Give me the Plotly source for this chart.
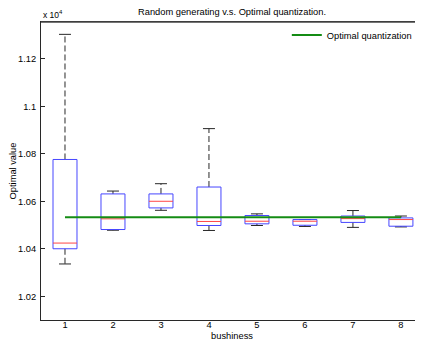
import plotly.graph_objects as go

# Data (values in units of 1; axis labelled x 10^4)
categories = [1, 2, 3, 4, 5, 6, 7, 8]
upper_whisker = [11303, 10643, 10674, 10906, 10547, 10523, 10561, 10538]
q3 = [10776, 10631, 10631, 10660, 10540, 10523, 10538, 10530]
median = [10424, 10526, 10600, 10515, 10516, 10516, 10527, 10523]
q1 = [10400, 10481, 10572, 10498, 10505, 10499, 10511, 10495]
lower_whisker = [10336, 10478, 10562, 10477, 10498, 10494, 10490, 10492]
optimal = [10533, 10533, 10533, 10533, 10533, 10533, 10533, 10533]

ytick_vals = [10200, 10400, 10600, 10800, 11000, 11200]
ytick_text = ["1.02", "1.04", "1.06", "1.08", "1.1", "1.12"]

HW = 0.25   # box half width
CW = 0.125  # cap half width
FONT = "Liberation Sans, Arial, Helvetica, sans-serif"
FS = 9.3

bx, by, mx, my, wx, wy, cx, cy = [], [], [], [], [], [], [], []
for c, u, a, m, b, l in zip(categories, upper_whisker, q3, median, q1, lower_whisker):
    bx += [c - HW, c + HW, c + HW, c - HW, c - HW, None]
    by += [b, b, a, a, b, None]
    mx += [c - HW, c + HW, None]
    my += [m, m, None]
    wx += [c, c, None, c, c, None]
    wy += [a, u, None, b, l, None]
    cx += [c - CW, c + CW, None, c - CW, c + CW, None]
    cy += [u, u, None, l, l, None]

W, H = 415, 334  # page has an 8px body margin

fig = go.Figure()
fig.add_trace(go.Scatter(x=wx, y=wy, mode="lines", showlegend=False, hoverinfo="skip",
                         line=dict(color="rgb(40,40,40)", width=1, dash="6px,3px")))
fig.add_trace(go.Scatter(x=cx, y=cy, mode="lines", showlegend=False, hoverinfo="skip",
                         line=dict(color="rgb(40,40,40)", width=1)))
fig.add_trace(go.Scatter(x=bx, y=by, mode="lines", showlegend=False, hoverinfo="skip",
                         line=dict(color="rgb(70,70,255)", width=1)))
fig.add_trace(go.Scatter(x=mx, y=my, mode="lines", showlegend=False, hoverinfo="skip",
                         line=dict(color="rgb(255,70,70)", width=1)))
fig.add_trace(go.Scatter(x=categories, y=optimal, mode="lines", name="Optimal quantization",
                         line=dict(color="rgb(20,140,20)", width=2)))
fig.add_trace(go.Scatter(x=[None], y=[None], yaxis="y2", showlegend=False, hoverinfo="skip"))

fig.update_layout(
    width=W, height=H,
    margin=dict(l=33, r=0, t=14, b=22, pad=0),
    paper_bgcolor="white", plot_bgcolor="white",
    font=dict(family=FONT, size=FS, color="black"),
    title=dict(text="Random generating v.s. Optimal quantization.", x=0.5, xref="paper",
               y=1 - 3.5 / H, yref="container", yanchor="middle", xanchor="center",
               font=dict(size=FS)),
    xaxis=dict(range=[0.5, 8.46], tickvals=categories, ticktext=[str(c) for c in categories],
               ticks="", showgrid=False, zeroline=False, showline=True, mirror="all",
               linecolor="rgb(40,40,40)", linewidth=1, ticklabelstandoff=-4,
               title=dict(text="bushiness", standoff=3, font=dict(size=FS))),
    yaxis=dict(range=[10100, 11355], tickvals=ytick_vals, ticktext=ytick_text,
               ticks="inside", ticklen=4, tickcolor="rgb(40,40,40)",
               showgrid=False, zeroline=False, showline=True, mirror=False,
               linecolor="rgb(40,40,40)", linewidth=1, ticklabelstandoff=2,
               title=dict(text="Optimal value", standoff=4, font=dict(size=FS))),
    yaxis2=dict(range=[10100, 11355], tickvals=ytick_vals, overlaying="y", side="right",
                ticks="inside", ticklen=4, tickcolor="rgb(40,40,40)", showticklabels=False,
                showgrid=False, zeroline=False, showline=False),
    legend=dict(x=0.6435, xanchor="left", y=1.005, yanchor="top", bgcolor="rgba(0,0,0,0)",
                font=dict(size=FS), itemwidth=30),
    annotations=[dict(text="x 10<sup>4</sup>", xref="paper", yref="paper", x=0, y=1,
                      xanchor="left", yanchor="bottom", showarrow=False, yshift=0,
                      font=dict(size=8.5))],
    shapes=[dict(type="line", xref="paper", yref="paper", x0=0, x1=1, y0=1, y1=1,
                 layer="above", line=dict(color="rgb(70,70,70)", width=1.3))],
)

fig.write_html("out.html")
